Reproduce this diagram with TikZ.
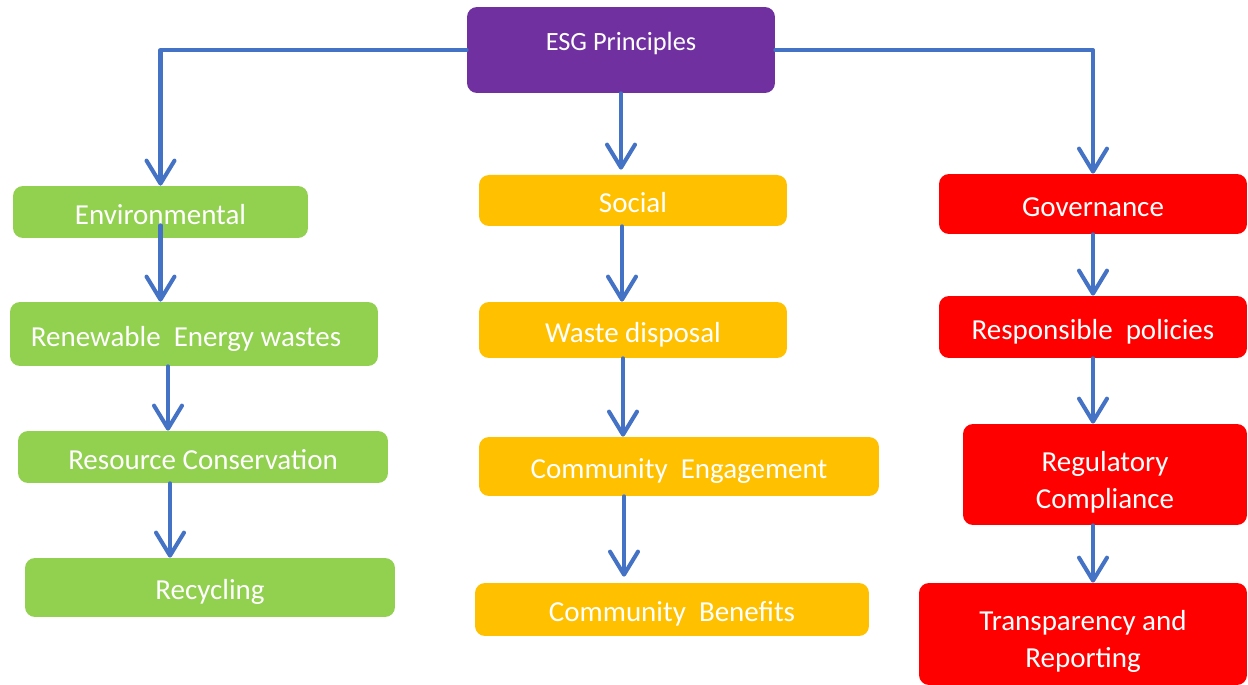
\documentclass[tikz,border=0pt]{standalone}
\usepackage{fontspec}
\setmainfont{Carlito}
\usetikzlibrary{arrows.meta}

\definecolor{esgpurple}{HTML}{7030A0}
\definecolor{envgreen}{HTML}{92D050}
\definecolor{socorange}{HTML}{FFC000}
\definecolor{govred}{HTML}{FF0000}
\definecolor{linkblue}{HTML}{4472C4}

\tikzset{
	box/.style={rounded corners=0.2cm, inner sep=0pt, text=white, align=center,
		font=\fontsize{16.5}{21}\selectfont, text height=1.4em, text depth=0pt},
	twolines/.style={text height=, text depth=},
	envbox/.style={box, fill=envgreen},
	socbox/.style={box, fill=socorange},
	govbox/.style={box, fill=govred},
	link/.style={draw=linkblue, line width=2.3pt, line cap=round, line join=round,
		-{Straight Barb[length=4.6mm,width=5.6mm,round]}}
}

\begin{document}
\begin{tikzpicture}[x=0.02cm,y=-0.02cm]
		\useasboundingbox (0,0) rectangle (1248,685);
		% top
		\node[box, fill=esgpurple, minimum width=6.16cm, minimum height=1.72cm,
			font=\fontsize{15}{18}\selectfont, text height=0.55em, text depth=0.45em] (esg) at (621,50) {ESG Principles};
		% environmental column
		\node[envbox, minimum width=5.9cm, minimum height=1.04cm] (env) at (160.5,212) {Environmental};
		\node[envbox, minimum width=7.36cm, minimum height=1.28cm] (ren) at (194,334) {Renewable\ \ Energy wastes\hspace*{0.32cm}};
		\node[envbox, minimum width=7.4cm, minimum height=1.04cm] (res) at (203,457) {Resource Conservation};
		\node[envbox, minimum width=7.4cm, minimum height=1.18cm] (rec) at (210,587.5) {Recycling};
		% social column
		\node[socbox, minimum width=6.16cm, minimum height=1.02cm] (soc) at (633,200.5) {Social};
		\node[socbox, minimum width=6.16cm, minimum height=1.12cm] (waste) at (633,330) {Waste disposal};
		\node[socbox, minimum width=8cm, minimum height=1.18cm] (ceng) at (679,466.5) {Community\ \ Engagement};
		\node[socbox, minimum width=7.88cm, minimum height=1.06cm] (cben) at (672,609.5) {Community\ \ Benefits};
		% governance column
		\node[govbox, minimum width=6.16cm, minimum height=1.2cm] (gov) at (1093,204) {Governance};
		\node[govbox, minimum width=6.16cm, minimum height=1.24cm] (resp) at (1093,327) {Responsible\ \ policies};
		\node[govbox, twolines, minimum width=5.68cm, minimum height=2.02cm] (reg) at (1105,474.5) {\rule{0pt}{1.2em}Regulatory\\Compliance};
		\node[govbox, twolines, minimum width=6.56cm, minimum height=2.04cm] (trans) at (1083,634) {\rule{0pt}{1.2em}Transparency and\\Reporting};
		% links from the top
		\draw[link] (esg.west) -| (env.north);
		\draw[link] (esg.east) -| (gov.north);
		\draw[link] (esg.south) -- ([yshift=0.1cm]esg.south |- soc.north);
		% links down the columns
		\draw[link] ([yshift=0.26cm]env.south) -- (env.south |- ren.north);
		\draw[link] ([xshift=-0.52cm]ren.south) -- ([xshift=-0.52cm]ren.south |- res.north);
		\draw[link] ([xshift=-0.66cm]res.south) -- ([xshift=-0.66cm]res.south |- rec.north);
		\draw[link] ([xshift=-0.22cm]soc.south) -- ([xshift=-0.22cm]soc.south |- waste.north);
		\draw[link] ([xshift=-0.2cm]waste.south) -- ([xshift=-0.2cm]waste.south |- ceng.north);
		\draw[link] ([xshift=-1.1cm]ceng.south) -- ([xshift=-1.1cm,yshift=0.12cm]ceng.south |- cben.north);
		\draw[link] (gov.south) -- (gov.south |- resp.north);
		\draw[link] (resp.south) -- (resp.south |- reg.north);
		\draw[link] ([xshift=-0.24cm]reg.south) -- ([xshift=-0.24cm]reg.south |- trans.north);
	\end{tikzpicture}
\end{document}
